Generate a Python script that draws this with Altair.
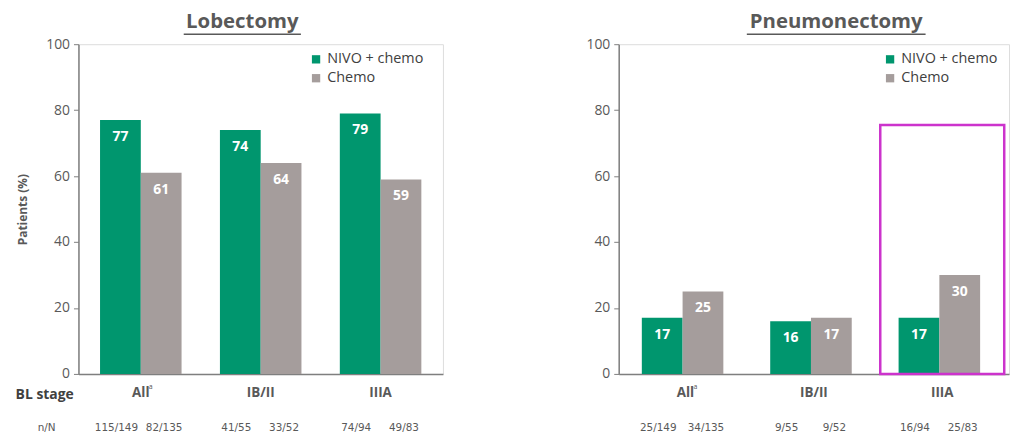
import altair as alt
import pandas as pd

stages = ["All", "IB/II", "IIIA"]
stage_marks = ["a", "", ""]
arms = ["NIVO + chemo", "Chemo"]

lob_nivo = [77, 74, 79]
lob_chemo = [61, 64, 59]
pn_nivo = [17, 16, 17]
pn_chemo = [25, 17, 30]

lob_nn_nivo = ["115/149", "41/55", "74/94"]
lob_nn_chemo = ["82/135", "33/52", "49/83"]
pn_nn_nivo = ["25/149", "9/55", "16/94"]
pn_nn_chemo = ["34/135", "9/52", "25/83"]

highlight_stage = ["IIIA"]
highlight_top = [75.5]

GREEN = "#00966E"
GRAY = "#A59D9C"
TXT = "#595959"
FONT = "Open Sans"


def make_df(nivo, chemo, nn_nivo, nn_chemo):
    rows = []
    for i, s in enumerate(stages):
        rows.append({"stage": s, "arm": arms[0], "value": nivo[i], "nn": nn_nivo[i]})
        rows.append({"stage": s, "arm": arms[1], "value": chemo[i], "nn": nn_chemo[i]})
    return pd.DataFrame(rows)


def panel(df, width, height, title, title_x, ul_x1, ul_x2, legend_x, show_ytitle, extra=None):
    xenc = alt.X("stage:N", sort=stages,
                 scale=alt.Scale(paddingInner=0.32, paddingOuter=0.18),
                 axis=alt.Axis(title=None, labelAngle=0, ticks=False, labelFontSize=13.5,
                               labelFontWeight="bold", labelColor=TXT, labelPadding=12,
                               domainColor="#7F7F7F", domainWidth=1.5, labelFont=FONT))
    yenc = alt.Y("value:Q", scale=alt.Scale(domain=[0, 100], nice=False),
                 axis=alt.Axis(values=[0, 20, 40, 60, 80, 100], grid=False,
                               title="Patients (%)" if show_ytitle else None,
                               titleFontSize=12, titleFontWeight="bold", titleColor=TXT,
                               titlePadding=16, titleFont=FONT,
                               labelFontSize=14, labelColor=TXT, labelFont=FONT,
                               tickSize=5, tickColor="#7F7F7F", domainColor="#7F7F7F",
                               domainWidth=1.5, labelPadding=4))
    xoff = alt.XOffset("arm:N", scale=alt.Scale(domain=arms))
    base = alt.Chart(df)
    bars = base.mark_bar().encode(
        x=xenc, y=yenc, xOffset=xoff,
        color=alt.Color("arm:N", scale=alt.Scale(domain=arms, range=[GREEN, GRAY]),
                        legend=alt.Legend(title=None, orient="none", legendX=legend_x, legendY=8,
                                          symbolType="square", symbolSize=70,
                                          labelFontSize=14.5, labelColor="#404040", labelFont=FONT,
                                          rowPadding=4, symbolStrokeWidth=0)),
    )
    labels = base.mark_text(color="white", fontWeight="bold", fontSize=14, dy=17,
                            baseline="middle", font=FONT).encode(
        x=alt.X("stage:N", sort=stages), y="value:Q", xOffset=xoff, text="value:Q")
    nn_layers = []
    for arm, shift in zip(arms, [-4, 3]):
        nn_layers.append(base.transform_filter(alt.datum.arm == arm).mark_text(
            color=TXT, fontSize=10.5, baseline="middle", font="DejaVu Sans", dx=shift).encode(
            x=alt.X("stage:N", sort=stages), xOffset=xoff, y=alt.value(height + 54), text="nn:N"))
    sup = alt.Chart(pd.DataFrame({"stage": stages, "m": stage_marks})).mark_text(
        color=TXT, fontSize=7, baseline="middle", font=FONT, dx=10).encode(
        x=alt.X("stage:N", sort=stages), y=alt.value(height + 13), text="m:N")
    ttl = alt.Chart(pd.DataFrame({"t": [title]})).mark_text(
        fontSize=20.5, fontWeight="bold", color=TXT, baseline="middle", font=FONT).encode(
        x=alt.value(title_x), y=alt.value(-22), text="t:N")
    ul = alt.Chart(pd.DataFrame({"t": [title]})).mark_rule(color=TXT, strokeWidth=1.5).encode(
        x=alt.value(ul_x1), x2=alt.value(ul_x2), y=alt.value(-10))
    layers = [bars, labels] + nn_layers + [sup, ttl, ul]
    if extra is not None:
        layers += extra
    return alt.layer(*layers).properties(width=width, height=height)


lob_df = make_df(lob_nivo, lob_chemo, lob_nn_nivo, lob_nn_chemo)
pn_df = make_df(pn_nivo, pn_chemo, pn_nn_nivo, pn_nn_chemo)

H = 332
bl = alt.Chart(pd.DataFrame({"t": ["BL stage"]})).mark_text(
    fontSize=14, fontWeight="bold", color="#404040", baseline="middle", font=FONT).encode(
    x=alt.value(-34), y=alt.value(H + 21), text="t:N")
nN = alt.Chart(pd.DataFrame({"t": ["n/N"]})).mark_text(
    fontSize=10.5, color=TXT, baseline="middle", font="DejaVu Sans").encode(
    x=alt.value(-32), y=alt.value(H + 54), text="t:N")

box = alt.Chart(pd.DataFrame({"stage": highlight_stage, "top": highlight_top})).mark_bar(
    filled=False, stroke="#CC33CC", strokeWidth=2.5, width=alt.RelativeBandSize(1.42)).encode(
    x=alt.X("stage:N", sort=stages), y=alt.Y("top:Q"), y2=alt.datum(0))

left = panel(lob_df, 367, H, "Lobectomy", 165, 106, 224, 232, True, [bl, nN])
right = panel(pn_df, 393, H, "Pneumonectomy", 219, 129, 309, 266, False, [box])

chart = alt.hconcat(left, right, spacing=142).resolve_legend(color="independent").resolve_scale(
    color="shared").properties(padding={"left": 15, "top": 10, "right": 0, "bottom": 0}).configure_view(
    stroke=None).configure(background="white")

chart.save("out.html", embed_options={"renderer": "svg", "actions": False})
